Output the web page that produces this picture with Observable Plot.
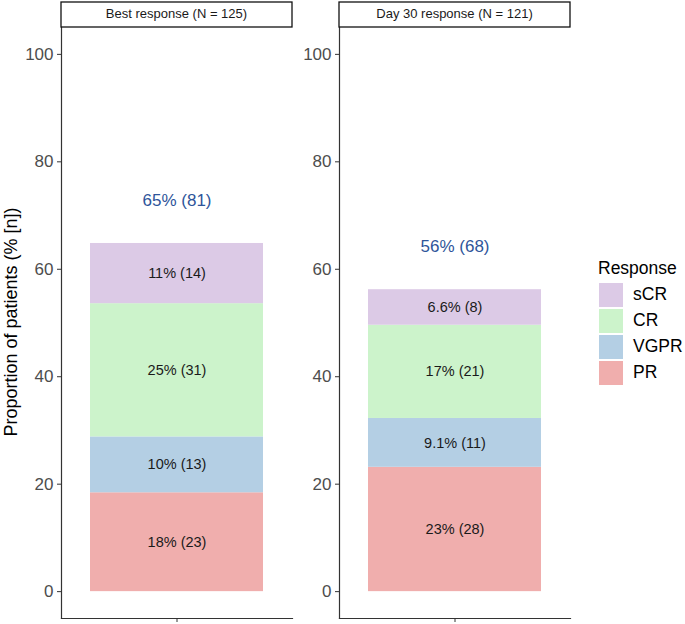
<!DOCTYPE html>
<html><head>
<meta charset="utf-8">
<script src="https://cdn.jsdelivr.net/npm/d3@7"></script>
<script src="https://cdn.jsdelivr.net/npm/@observablehq/plot@0.6"></script>
<style>body{margin:0;background:#fff;font-family:"Liberation Sans",Arial,Helvetica,sans-serif}</style>
</head><body><div id="wrap" style="position:relative;width:685px;height:624px"></div>
<script>
const panels = ["Best response (N = 125)", "Day 30 response (N = 121)"];
const panelN = [125, 121];
const responses = ["PR", "VGPR", "CR", "sCR"];
const colors = ["#F0AEAD", "#B4CFE4", "#CCF3CB", "#DCCAE6"];
const bestCounts = [23, 13, 31, 14];
const day30Counts = [28, 11, 21, 8];
const bestLabels = ["18% (23)", "10% (13)", "25% (31)", "11% (14)"];
const day30Labels = ["23% (28)", "9.1% (11)", "17% (21)", "6.6% (8)"];
const totalLabels = ["65% (81)", "56% (68)"];
const yTicks = [0, 20, 40, 60, 80, 100];

const counts = [bestCounts, day30Counts];
const labels = [bestLabels, day30Labels];
const rows = [];
const totals = [];
panels.forEach((p, i) => {
  let sum = 0;
  responses.forEach((r, j) => {
    const pct = counts[i][j] / panelN[i] * 100;
    sum += pct;
    rows.push({panel: p, group: "all", response: r, pct, label: labels[i][j]});
  });
  totals.push({panel: p, group: "all", total: sum, label: totalLabels[i]});
});

const font = '"Liberation Sans",Arial,Helvetica,sans-serif';
const plot = Plot.plot({
  width: 685, height: 624,
  marginLeft: 61, marginRight: 114, marginTop: 27, marginBottom: 6,
  style: {fontFamily: font, background: "#fff"},
  fx: {domain: panels, paddingInner: 0.168, paddingOuter: 0, axis: null, label: null},
  x: {domain: ["all"], paddingInner: 0, paddingOuter: 1/6, label: null},
  y: {domain: [-5, 105], label: null},
  color: {domain: responses, range: colors},
  marks: [
    Plot.barY(rows, Plot.stackY({fx: "panel", x: "group", y: "pct", z: "response", fill: "response"})),
    Plot.text(rows, Plot.stackY({fx: "panel", x: "group", y: "pct", z: "response", text: "label", fontSize: 14.5, fill: "#1a1a1a"})),
    Plot.text(totals, {fx: "panel", x: "group", y: "total", text: "label", dy: -43, fill: "#2E559A", fontSize: 17}),
    Plot.frame({anchor: "left", stroke: "#333", strokeWidth: 1.2}),
    Plot.frame({anchor: "bottom", stroke: "#333", strokeWidth: 1.2}),
    Plot.axisY({ticks: yTicks, tickSize: 4, tickPadding: 4, facetAnchor: null, label: null, fontSize: 17, fill: "#4d4d4d", stroke: "#333"}),
    Plot.axisX({tickSize: 4, tickFormat: () => "", label: null, stroke: "#333"})
  ]
});

const svg = d3.select(plot);
const fx = plot.scale("fx");
panels.forEach(p => {
  const x0 = fx.apply(p);
  const bw = fx.bandwidth;
  const g = svg.append("g");
  g.append("rect").attr("x", x0).attr("y", 2).attr("width", bw).attr("height", 25)
    .attr("fill", "#fff").attr("stroke", "#111").attr("stroke-width", 1.3);
  g.append("text").attr("x", x0 + bw / 2).attr("y", 15).attr("text-anchor", "middle")
    .attr("dominant-baseline", "middle").attr("font-size", 13).attr("fill", "#1a1a1a")
    .attr("font-family", font).text(p);
});

svg.append("text").attr("transform", "translate(12,322) rotate(-90)")
  .attr("text-anchor", "middle").attr("dominant-baseline", "middle")
  .attr("font-size", 18).attr("fill", "#000").attr("font-family", font)
  .text("Proportion of patients (% [n])");

const color = plot.scale("color");
const leg = svg.append("g").attr("font-family", font).attr("text-anchor", "start");
leg.append("text").attr("x", 598).attr("y", 274).attr("text-anchor", "start").attr("font-size", 17.5).attr("fill", "#000").text("Response");
const legOrder = responses.slice().reverse();
legOrder.forEach((r, i) => {
  const y = 283 + i * 26;
  leg.append("rect").attr("x", 599).attr("y", y).attr("width", 24).attr("height", 24)
    .attr("fill", color.apply(r));
  leg.append("text").attr("x", 633).attr("y", y + 12).attr("text-anchor", "start").attr("dominant-baseline", "middle")
    .attr("font-size", 17.5).attr("fill", "#000").text(r);
});

document.getElementById("wrap").appendChild(plot);
</script>
</body></html>
